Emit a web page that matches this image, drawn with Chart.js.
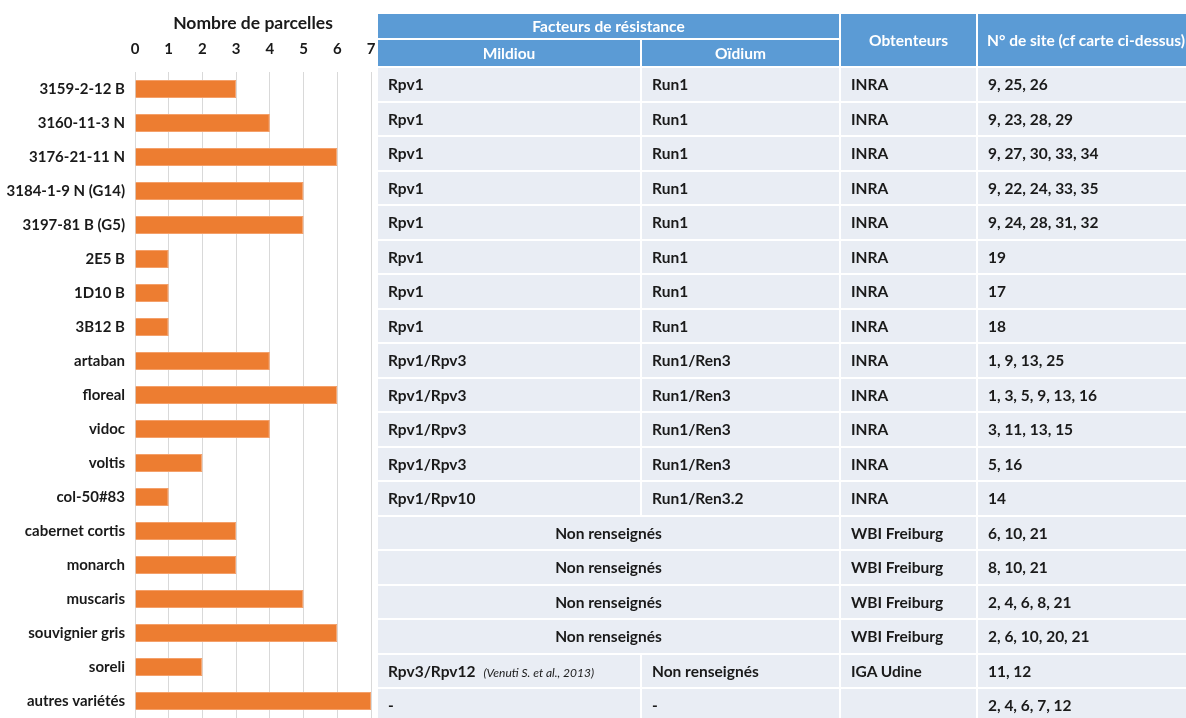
<!DOCTYPE html>
<html lang="fr">
<head>
<meta charset="utf-8">
<script src="https://cdn.jsdelivr.net/npm/chart.js@4"></script>
<style>
    html, body { margin: 0; padding: 0; background: #fff; overflow: hidden; width: 1186px; height: 718px; }
    #chart-box { position: absolute; left: 0; top: 0; width: 378px; height: 718px; }
    #sites-table {
        position: absolute; left: 376px; top: 12px;
        border-collapse: separate; border-spacing: 2px;
        table-layout: fixed; width: 862px;
        font-family: Lato, sans-serif; font-weight: bold; font-size: 15.5px; color: #1a1a1a;
    }
    #sites-table th { background: #5b9bd5; color: #fff; font-weight: bold; padding: 0; }
    #sites-table th.left { text-align: left; padding-left: 9px; }
    #sites-table td { background: #e9edf4; padding: 0 0 0 10px; height: 32.5px; white-space: nowrap; overflow: hidden; }
    #sites-table td.merged { text-align: center; padding: 0; }
    #sites-table .ref { font-style: italic; font-weight: normal; font-size: 12px; margin-left: 8px; }
</style>
</head>
<body>
<div id="chart-box"><canvas id="parcelsChart" width="378" height="718"></canvas></div>
<table id="sites-table">
    <colgroup><col style="width:262px"><col style="width:197px"><col style="width:135px"><col style="width:260px"></colgroup>
    <thead>
        <tr style="height:24px"><th colspan="2">Facteurs de résistance</th><th rowspan="2">Obtenteurs</th><th rowspan="2" class="left">N° de site (cf carte ci-dessus)</th></tr>
        <tr style="height:26px"><th>Mildiou</th><th>Oïdium</th></tr>
    </thead>
    <tbody id="table-body"></tbody>
</table>
<script>
// varieties and number of plots
const varieties = ['3159-2-12 B', '3160-11-3 N', '3176-21-11 N', '3184-1-9 N (G14)', '3197-81 B (G5)',
    '2E5 B', '1D10 B', '3B12 B', 'artaban', 'floreal', 'vidoc', 'voltis', 'col-50#83',
    'cabernet cortis', 'monarch', 'muscaris', 'souvignier gris', 'soreli', 'autres variétés'];
const parcelles = [3, 4, 6, 5, 5, 1, 1, 1, 4, 6, 4, 2, 1, 3, 3, 5, 6, 2, 7];
const xTicks = [0, 1, 2, 3, 4, 5, 6, 7];

// table columns (null = "Non renseignés" over both resistance columns)
const mildiou = ['Rpv1', 'Rpv1', 'Rpv1', 'Rpv1', 'Rpv1', 'Rpv1', 'Rpv1', 'Rpv1',
    'Rpv1/Rpv3', 'Rpv1/Rpv3', 'Rpv1/Rpv3', 'Rpv1/Rpv3', 'Rpv1/Rpv10',
    null, null, null, null, 'Rpv3/Rpv12', '-'];
const oidium = ['Run1', 'Run1', 'Run1', 'Run1', 'Run1', 'Run1', 'Run1', 'Run1',
    'Run1/Ren3', 'Run1/Ren3', 'Run1/Ren3', 'Run1/Ren3', 'Run1/Ren3.2',
    null, null, null, null, 'Non renseignés', '-'];
const obtenteurs = ['INRA', 'INRA', 'INRA', 'INRA', 'INRA', 'INRA', 'INRA', 'INRA',
    'INRA', 'INRA', 'INRA', 'INRA', 'INRA',
    'WBI Freiburg', 'WBI Freiburg', 'WBI Freiburg', 'WBI Freiburg', 'IGA Udine', ''];
const sites = ['9, 25, 26', '9, 23, 28, 29', '9, 27, 30, 33, 34', '9, 22, 24, 33, 35', '9, 24, 28, 31, 32',
    '19', '17', '18', '1, 9, 13, 25', '1, 3, 5, 9, 13, 16', '3, 11, 13, 15', '5, 16', '14',
    '6, 10, 21', '8, 10, 21', '2, 4, 6, 8, 21', '2, 6, 10, 20, 21', '11, 12', '2, 4, 6, 7, 12'];

document.addEventListener('DOMContentLoaded', () => {
    // build the table rows
    const body = document.getElementById('table-body');
    mildiou.forEach((m, i) => {
        const tr = document.createElement('tr');
        if (m === null) {
            tr.innerHTML = '<td class="merged" colspan="2">Non renseignés</td>';
        } else {
            const extra = m === 'Rpv3/Rpv12' ? '<span class="ref">(Venuti S. et al., 2013)</span>' : '';
            tr.innerHTML = `<td>${m}${extra}</td><td>${oidium[i]}</td>`;
        }
        tr.innerHTML += `<td>${obtenteurs[i]}</td><td>${sites[i]}</td>`;
        body.appendChild(tr);
    });

    const ctx = document.getElementById('parcelsChart').getContext('2d');
    new Chart(ctx, {
        type: 'bar',
        data: {
            labels: varieties,
            datasets: [{
                data: parcelles,
                backgroundColor: '#ed7d31',
                borderColor: '#f4a06a',
                borderWidth: 1,
                barPercentage: 0.53,
                categoryPercentage: 1
            }]
        },
        options: {
            indexAxis: 'y',
            responsive: false,
            animation: false,
            devicePixelRatio: 1,
            layout: { padding: { left: 0, right: 7, top: 0, bottom: 0 } },
            plugins: { legend: { display: false }, tooltip: { enabled: false } },
            scales: {
                x: {
                    position: 'top',
                    min: 0,
                    max: 7,
                    afterBuildTicks: (scale) => { scale.ticks = xTicks.map(v => ({ value: v })); },
                    // fixed header height, no extra side padding for the end labels
                    afterFit: (scale) => { scale.height = 72; scale.paddingLeft = 0; scale.paddingRight = 0; },
                    grid: { color: '#d9d9d9', drawTicks: false },
                    border: { display: false },
                    ticks: { padding: 14, color: '#1a1a1a', font: { family: 'Lato', size: 15, weight: 'bold' } },
                    title: {
                        display: true,
                        text: 'Nombre de parcelles',
                        color: '#1a1a1a',
                        padding: { top: 13, bottom: 0 },
                        font: { family: 'Lato', size: 17.5, weight: 'bold' }
                    }
                },
                y: {
                    afterFit: (scale) => { scale.width = 135; scale.paddingTop = 0; scale.paddingBottom = 0; },
                    grid: { display: false, drawTicks: false },
                    border: { display: false },
                    ticks: { padding: 10, color: '#1a1a1a', autoSkip: false, font: { family: 'Lato', size: 15, weight: 'bold' } }
                }
            }
        }
    });
});
</script>
</body>
</html>
